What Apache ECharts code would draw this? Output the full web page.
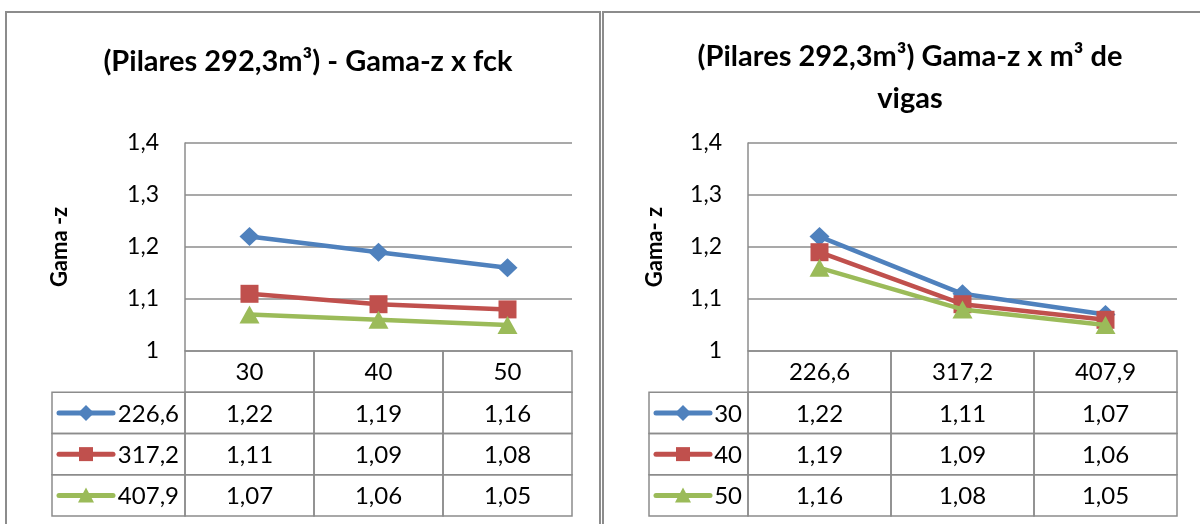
<!DOCTYPE html>
<html>
<head>
<meta charset="utf-8">
<script src="https://cdn.jsdelivr.net/npm/echarts@6/dist/echarts.min.js"></script>
<style>
  html, body { margin: 0; padding: 0; background: #ffffff; }
  #c { width: 1200px; height: 524px; }
</style>
</head>
<body>
<div id="c"></div>
<script>
// ---- Left chart: Gama-z against fck, one line per beam volume (m³) ----
const fckCategories = ['30', '40', '50'];
const beamVolumeNames = ['226,6', '317,2', '407,9'];
const gamaZ_vol226 = [1.22, 1.19, 1.16];
const gamaZ_vol317 = [1.11, 1.09, 1.08];
const gamaZ_vol407 = [1.07, 1.06, 1.05];

// ---- Right chart: Gama-z against beam volume, one line per fck ----
const volumeCategories = ['226,6', '317,2', '407,9'];
const fckNames = ['30', '40', '50'];
const gamaZ_fck30 = [1.22, 1.11, 1.07];
const gamaZ_fck40 = [1.19, 1.09, 1.06];
const gamaZ_fck50 = [1.16, 1.08, 1.05];

// Value axis range shared by both charts
const yMin = 1.0;
const yMax = 1.4;
const yStep = 0.1;

const titleLeft = '(Pilares 292,3m³) - Gama-z x fck';
const titleRight = '(Pilares 292,3m³) Gama-z x m³ de\nvigas';
const yNameLeft = 'Gama -z';
const yNameRight = 'Gama- z';

// ---- Styling ----
const FONT = 'Lato, "Open Sans", sans-serif';
const palette = ['#4F81BD', '#C0504D', '#9BBB59'];
const symbols = ['diamond', 'rect', 'triangle'];
const symbolSizes = [[20, 19], [18, 18], [20, 18]];
const lineGrey = '#8c8c8c';

const commaNum = (v, d) => v.toFixed(d).replace('.', ',');
const tickFmt = v => {
  const r = Math.round(v * 10) / 10;
  return Number.isInteger(r) ? String(r) : commaNum(r, 1);
};

// Small marker drawn inside the data-table legend cells
function keySymbol(i, cx, cy, color) {
  if (i === 0) {
    return { type: 'polygon', shape: { points: [[cx, cy - 8], [cx + 8, cy], [cx, cy + 8], [cx - 8, cy]] }, style: { fill: color } };
  }
  if (i === 1) {
    return { type: 'rect', shape: { x: cx - 7, y: cy - 7, width: 14, height: 14 }, style: { fill: color } };
  }
  return { type: 'polygon', shape: { points: [[cx, cy - 8], [cx + 8, cy + 7], [cx - 8, cy + 7]] }, style: { fill: color } };
}

// Data table under the plot: header row of categories, one row per series
function tableRenderer(cats, names, rows, legendWidth) {
  return function (params, api) {
    const col = api.value(0), row = api.value(1), kind = api.value(2);
    const c = api.coord([col, row]);
    const s = api.size([1, 1]);
    const cs = params.coordSys;
    let cw = s[0];
    const h = s[1];
    let x0 = c[0] - cw / 2;
    const y0 = c[1] - h / 2;
    if (kind === 2) { x0 = cs.x - legendWidth; cw = legendWidth; }
    const children = [{
      type: 'rect', shape: { x: x0, y: y0, width: cw, height: h },
      style: { fill: 'none', stroke: lineGrey, lineWidth: 1.5 }
    }];
    const textStyle = { fontFamily: FONT, fontSize: 24, fill: '#000', verticalAlign: 'middle' };
    if (kind === 2) {
      const i = row - 1;
      const ky = y0 + h / 2;
      const kx0 = x0 + 7, kx1 = x0 + 61;
      children.push({ type: 'line', shape: { x1: kx0, y1: ky, x2: kx1, y2: ky }, style: { stroke: palette[i], lineWidth: 5, lineCap: 'round' } });
      children.push(keySymbol(i, (kx0 + kx1) / 2, ky, palette[i]));
      children.push({ type: 'text', style: Object.assign({ text: names[i], x: x0 + cw - 6, y: ky + 1, align: 'right' }, textStyle) });
    } else {
      const text = kind === 0 ? cats[col] : commaNum(rows[row - 1][col], 2);
      children.push({ type: 'text', style: Object.assign({ text, x: x0 + cw / 2, y: y0 + h / 2 + 1, align: 'center' }, textStyle) });
    }
    return { type: 'group', children };
  };
}

function tableCells(cats, rows) {
  const out = [];
  cats.forEach((_, ci) => out.push([ci, 0, 0]));
  rows.forEach((r, ri) => {
    out.push([0, ri + 1, 2]);
    r.forEach((_, ci) => out.push([ci, ri + 1, 1]));
  });
  return out;
}

// Builds grids/axes/series for one chart panel
function panel(idx, cfg) {
  const g = idx * 2;
  const grids = [
    { left: cfg.left, width: cfg.width, top: 143, height: 208 },
    { left: cfg.left, width: cfg.width, top: 351, height: 165 }
  ];
  const xAxes = [
    { gridIndex: g, type: 'category', data: cfg.cats, boundaryGap: true,
      axisLine: { show: false }, axisTick: { show: false }, axisLabel: { show: false } },
    { gridIndex: g + 1, type: 'category', data: cfg.cats, boundaryGap: true, show: false }
  ];
  const yAxes = [
    { gridIndex: g, type: 'value', min: yMin, max: yMax, interval: yStep,
      name: cfg.yName, nameLocation: 'middle', nameGap: cfg.nameGap, nameRotate: 90,
      nameTextStyle: { fontFamily: FONT, fontSize: 22, fontWeight: 'bold', color: '#000' },
      axisLine: { show: true, lineStyle: { color: lineGrey, width: 1.5 } },
      axisTick: { show: false },
      axisLabel: { formatter: tickFmt, margin: 26, fontFamily: FONT, fontSize: 23, color: '#000' },
      splitLine: { show: true, lineStyle: { color: lineGrey, width: 1.5 } } },
    { gridIndex: g + 1, type: 'category', data: [''].concat(cfg.names), inverse: true, show: false }
  ];
  const series = cfg.rows.map((vals, i) => ({
    type: 'line', name: cfg.names[i], xAxisIndex: g, yAxisIndex: g, data: vals,
    symbol: symbols[i], symbolSize: symbolSizes[i], showAllSymbol: true,
    lineStyle: { color: palette[i], width: 4.5 },
    itemStyle: { color: palette[i] },
    z: 3 + i
  }));
  series.push({
    type: 'custom', xAxisIndex: g + 1, yAxisIndex: g + 1,
    renderItem: tableRenderer(cfg.cats, cfg.names, cfg.rows, cfg.legendWidth),
    data: tableCells(cfg.cats, cfg.rows), clip: false, silent: true
  });
  return { grids, xAxes, yAxes, series };
}

const left = panel(0, {
  left: 185, width: 387, legendWidth: 133, nameGap: 114, yName: yNameLeft,
  cats: fckCategories, names: beamVolumeNames,
  rows: [gamaZ_vol226, gamaZ_vol317, gamaZ_vol407]
});
const right = panel(1, {
  left: 748, width: 429, legendWidth: 99, nameGap: 82, yName: yNameRight,
  cats: volumeCategories, names: fckNames,
  rows: [gamaZ_fck30, gamaZ_fck40, gamaZ_fck50]
});

const titleStyle = { fontFamily: FONT, fontSize: 29, fontWeight: 'bold', color: '#000', lineHeight: 42 };

const chart = echarts.init(document.getElementById('c'), null, { renderer: 'canvas' });
chart.setOption({
  animation: false,
  backgroundColor: '#ffffff',
  title: [
    { text: titleLeft, left: 303, top: 36, textAlign: 'center', textStyle: titleStyle },
    { text: titleRight, left: 905, top: 31, textAlign: 'center', textStyle: titleStyle }
  ],
  graphic: [
    { type: 'rect', shape: { x: 6, y: 12, width: 594, height: 530 }, style: { fill: 'none', stroke: lineGrey, lineWidth: 2 }, silent: true },
    { type: 'rect', shape: { x: 603, y: 12, width: 620, height: 530 }, style: { fill: 'none', stroke: lineGrey, lineWidth: 2 }, silent: true }
  ],
  grid: left.grids.concat(right.grids),
  xAxis: left.xAxes.concat(right.xAxes),
  yAxis: left.yAxes.concat(right.yAxes),
  series: left.series.concat(right.series)
});
</script>
</body>
</html>
